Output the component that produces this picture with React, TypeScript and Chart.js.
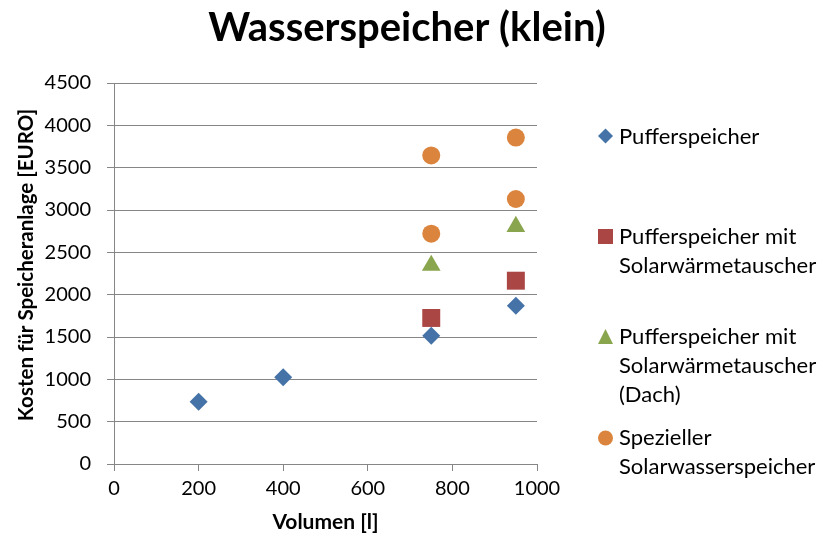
import React, { useEffect, useRef } from 'react';
import { Chart, registerables } from 'chart.js';

Chart.register(...registerables);

const chartTitle = 'Wasserspeicher (klein)';
const xAxisTitle = 'Volumen [l]';
const yAxisTitle = 'Kosten für Speicheranlage [EURO]';

const seriesLabels: string[][] = [
  ['Pufferspeicher'],
  ['Pufferspeicher mit', 'Solarwärmetauscher'],
  ['Pufferspeicher mit', 'Solarwärmetauscher', '(Dach)'],
  ['Spezieller', 'Solarwasserspeicher'],
];

const pufferX = [200, 400, 750, 950];
const pufferY = [735, 1025, 1515, 1870];
const solarX = [750, 950];
const solarY = [1725, 2165];
const dachX = [750, 950];
const dachY = [2345, 2805];
const spezX = [750, 750, 950, 950];
const spezY = [2720, 3645, 3130, 3855];

const xTickValues = [0, 200, 400, 600, 800, 1000];
const yTickValues = [0, 500, 1000, 1500, 2000, 2500, 3000, 3500, 4000, 4500];

const colors = ['#4572A7', '#AA4643', '#89A54E', '#DB843D'];
const styles = ['rectRot', 'rect', 'triangle', 'circle'];
const radii = [9, 12.7, 10.8, 9];

const FONT = 'Lato';
const GRID = '#868686';

const toPts = (xs: number[], ys: number[]) => xs.map((x, i) => ({ x, y: ys[i] }));

function drawMarker(ctx: CanvasRenderingContext2D, style: string, x: number, y: number, s: number) {
  ctx.beginPath();
  if (style === 'rectRot') {
    ctx.moveTo(x, y - s);
    ctx.lineTo(x + s, y);
    ctx.lineTo(x, y + s);
    ctx.lineTo(x - s, y);
    ctx.closePath();
  } else if (style === 'rect') {
    ctx.rect(x - s, y - s, 2 * s, 2 * s);
  } else if (style === 'triangle') {
    ctx.moveTo(x, y - s);
    ctx.lineTo(x + s, y + s);
    ctx.lineTo(x - s, y + s);
    ctx.closePath();
  } else {
    ctx.arc(x, y, s, 0, Math.PI * 2);
  }
  ctx.fill();
}

const extrasPlugin = {
  id: 'extras',
  afterDraw(chart: any) {
    const ctx: CanvasRenderingContext2D = chart.ctx;
    const area = chart.chartArea;

    // chart title
    ctx.save();
    ctx.fillStyle = '#000';
    ctx.font = `bold 40px ${FONT}`;
    ctx.textAlign = 'center';
    ctx.textBaseline = 'alphabetic';
    ctx.fillText(chartTitle, 407, 41);
    ctx.restore();

    // y axis title
    ctx.save();
    ctx.fillStyle = '#000';
    ctx.font = `bold 20.5px ${FONT}`;
    ctx.textAlign = 'center';
    ctx.textBaseline = 'alphabetic';
    ctx.translate(33, 265);
    ctx.rotate(-Math.PI / 2);
    ctx.fillText(yAxisTitle, 0, 0);
    ctx.restore();

    // legend
    ctx.save();
    const markerX = area.right + 68.5;
    const textX = area.right + 82;
    const itemBaselines = [143.5, 243.5, 343.5, 445];
    const markerCenters = [136, 236.5, 336.5, 438];
    const lineH = 29;
    ctx.font = `22px ${FONT}`;
    ctx.textAlign = 'left';
    ctx.textBaseline = 'alphabetic';
    seriesLabels.forEach((lines, i) => {
      ctx.fillStyle = colors[i];
      drawMarker(ctx, styles[i], markerX, markerCenters[i], 7.5);
      ctx.fillStyle = '#000';
      lines.forEach((ln, j) => ctx.fillText(ln, textX, itemBaselines[i] + j * lineH));
    });
    ctx.restore();
  },
};

export default function App() {
  const ref = useRef<HTMLCanvasElement | null>(null);
  useEffect(() => {
    if (!ref.current) return;
    const data = [toPts(pufferX, pufferY), toPts(solarX, solarY), toPts(dachX, dachY), toPts(spezX, spezY)];
    const chart = new Chart(ref.current, {
      type: 'scatter',
      data: {
        datasets: data.map((d, i) => ({
          label: seriesLabels[i].join(' '),
          data: d,
          pointStyle: styles[i] as any,
          pointRadius: radii[i],
          pointHoverRadius: radii[i],
          backgroundColor: colors[i],
          borderColor: colors[i],
          borderWidth: 0,
        })),
      },
      options: {
        animation: false,
        responsive: true,
        maintainAspectRatio: false,
        events: [],
        layout: { padding: { left: 0, right: 284, top: 83, bottom: 0 } },
        plugins: {
          legend: { display: false },
          tooltip: { enabled: false },
          title: { display: false },
        },
        scales: {
          x: {
            type: 'linear',
            min: 0,
            max: 1000,
            afterBuildTicks: (s: any) => {
              s.ticks = xTickValues.map((v) => ({ value: v }));
            },
            afterFit: (s: any) => {
              s.height = 80;
            },
            ticks: {
              color: '#000',
              font: { family: FONT, size: 20 },
              padding: 6,
              maxRotation: 0,
              callback: (v: any) => String(v),
            },
            grid: { drawOnChartArea: false, drawTicks: true, tickLength: 7, color: GRID },
            border: { display: true, color: GRID },
            title: {
              display: true,
              text: xAxisTitle,
              color: '#000',
              font: { family: FONT, size: 21, weight: 'bold', lineHeight: 1.2 },
              padding: { top: 0, bottom: 9 },
            },
          },
          y: {
            type: 'linear',
            min: 0,
            max: 4500,
            afterBuildTicks: (s: any) => {
              s.ticks = yTickValues.map((v) => ({ value: v }));
            },
            afterFit: (s: any) => {
              s.width = 114;
            },
            ticks: {
              color: '#000',
              font: { family: FONT, size: 20 },
              padding: 16,
              callback: (v: any) => String(v),
            },
            grid: { drawOnChartArea: true, drawTicks: true, tickLength: 7, color: GRID },
            border: { display: true, color: GRID },
          },
        },
      },
      plugins: [extrasPlugin],
    });
    return () => chart.destroy();
  }, []);
  return (
    <div style={{ position: 'fixed', left: 0, top: 0, width: 821, height: 544, background: '#fff' }}>
      <canvas ref={ref} />
    </div>
  );
}
